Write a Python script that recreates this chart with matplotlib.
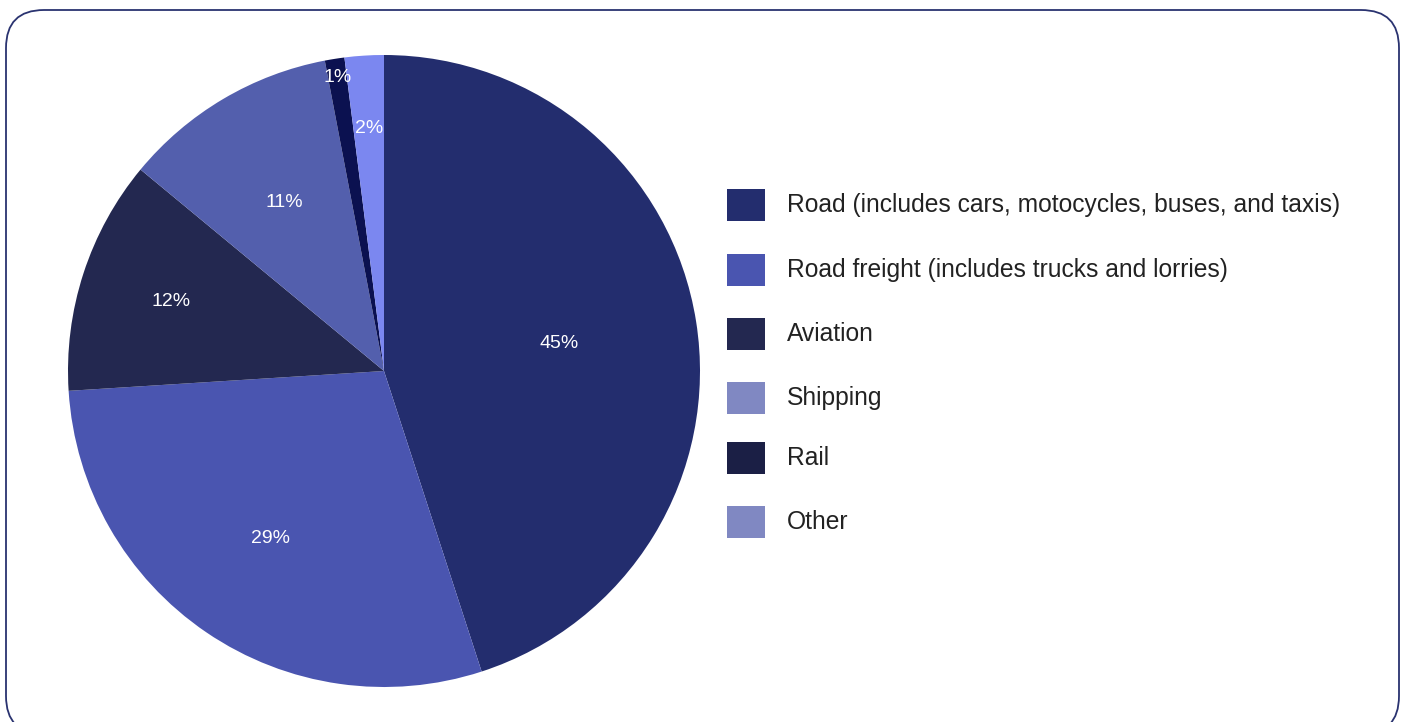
import numpy as np
import matplotlib
matplotlib.use('Agg')
import matplotlib.pyplot as plt
from matplotlib.patches import FancyBboxPatch, Rectangle
from matplotlib.transforms import IdentityTransform

plt.rcParams['font.family'] = ['Liberation Sans', 'DejaVu Sans']

# Transport emissions share (%)
categories = ['Road (includes cars, motocycles, buses, and taxis)',
              'Road freight (includes trucks and lorries)',
              'Aviation', 'Shipping', 'Rail', 'Other']
shares = [45, 29, 12, 11, 1, 2]
wedge_colors = ['#232d6e', '#4a55b0', '#232850', '#535fad', '#0b1150', '#7b87f0']
legend_colors = ['#232d6e', '#4a55b0', '#232850', '#8088c2', '#1b1f45', '#8088c2']
label_dist = [0.56, 0.64, 0.71, 0.62, 0.94, 0.77]

W, H = 1407, 722
fig = plt.figure(figsize=(W / 100, H / 100), dpi=100)

# rounded frame
frame = FancyBboxPatch((6, -12), 1393, 724, boxstyle='round,pad=0,rounding_size=38',
                       transform=IdentityTransform(), facecolor='none',
                       edgecolor='#2a3370', linewidth=1.3, zorder=-1)
fig.patches.append(frame)

cx, cy, r = 384, 371, 316
ax = fig.add_axes([(cx - r) / W, (H - cy - r) / H, 2 * r / W, 2 * r / H])
wedges, _ = ax.pie(shares, colors=wedge_colors, startangle=90, counterclock=False,
                   radius=1, wedgeprops={'linewidth': 0})
for w, s, d in zip(wedges, shares, label_dist):
    mid = np.deg2rad((w.theta1 + w.theta2) / 2)
    ax.text(d * np.cos(mid), d * np.sin(mid), f'{s}%', ha='center', va='center',
            color='white', fontsize=14)
ax.set_xlim(-1, 1)
ax.set_ylim(-1, 1)
ax.set_aspect('equal')
ax.axis('off')

# legend
row_y = [205, 270, 334, 398, 458, 522]
for lbl, c, y in zip(categories, legend_colors, row_y):
    fig.patches.append(Rectangle((727, H - y - 16), 38, 32, transform=IdentityTransform(),
                                 facecolor=c, edgecolor='none'))
    fig.text(787 / W, (H - y) / H, lbl, ha='left', va='center', fontsize=17.7,
             color='#222222')

fig.savefig('out.png', dpi=100)
